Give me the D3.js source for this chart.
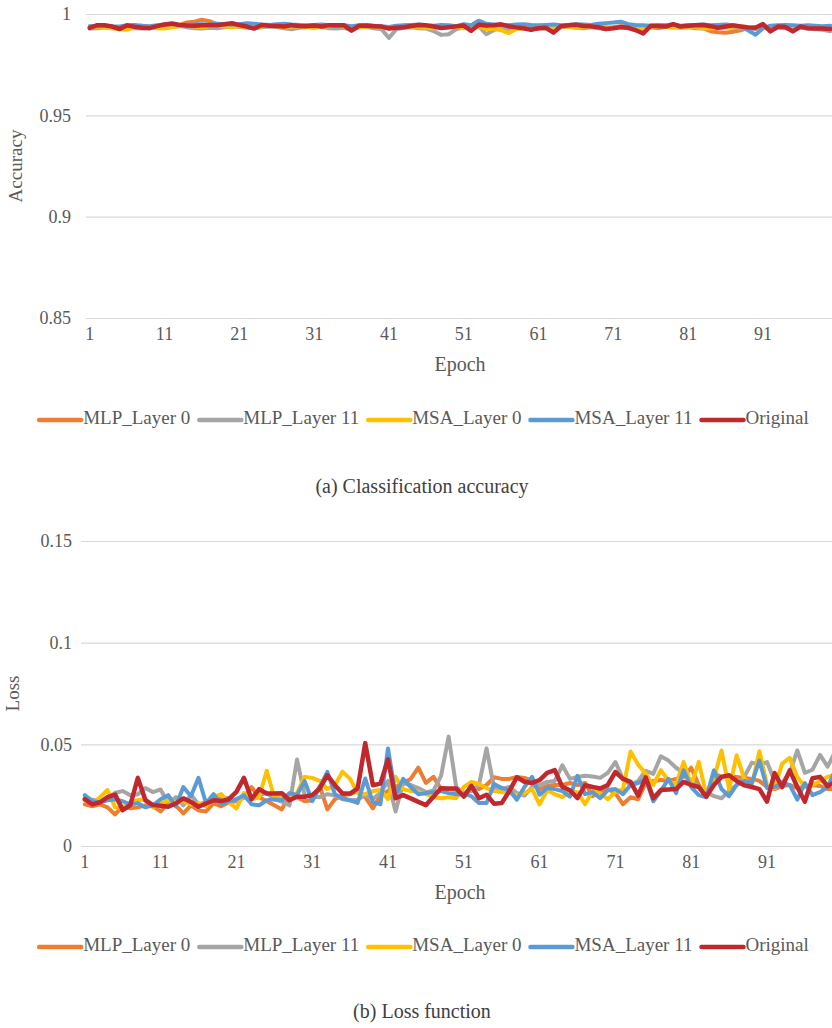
<!DOCTYPE html>
<html>
<head>
<meta charset="utf-8">
<script src="https://cdn.jsdelivr.net/npm/d3@7"></script>
<style>
  body { margin: 0; background: #fff; }
  svg text { font-family: "Liberation Serif", "Times New Roman", Tinos, "DejaVu Serif", "Noto Serif", serif; }
</style>
</head>
<body>
<div id="chart-area"></div>
<script>
// epochs 1..100
const epochs = d3.range(1, 101);
const seriesNames = ["MLP_Layer 0", "MLP_Layer 11", "MSA_Layer 0", "MSA_Layer 11", "Original"];
const xTickLabels = [1, 11, 21, 31, 41, 51, 61, 71, 81, 91];
const accTicks = [0.85, 0.9, 0.95, 1];
const lossTicks = [0, 0.05, 0.1, 0.15];

// (a) accuracy per epoch
const accMlp0 = [.9938,.9940,.9942,.9935,.9930,.9940,.9938,.9942,.9936,.9940,.9944,.9948,.9946,.9958,.9962,.9972,.9965,.9950,.9945,.9950,.9944,.9940,.9935,.9942,.9944,.9940,.9936,.9942,.9940,.9938,.9932,.9940,.9944,.9942,.9940,.9925,.9940,.9938,.9936,.9935,.9932,.9938,.9942,.9944,.9945,.9942,.9940,.9935,.9938,.9940,.9942,.9930,.9944,.9940,.9938,.9942,.9936,.9940,.9935,.9930,.9936,.9938,.9925,.9938,.9942,.9940,.9944,.9938,.9932,.9930,.9935,.9940,.9938,.9930,.9928,.9940,.9938,.9942,.9944,.9940,.9936,.9938,.9930,.9915,.9910,.9908,.9912,.9920,.9930,.9935,.9940,.9925,.9938,.9935,.9928,.9936,.9932,.9930,.9928,.9925];
const accMlp11 = [.9928,.9930,.9935,.9930,.9932,.9936,.9930,.9928,.9932,.9935,.9938,.9940,.9942,.9935,.9930,.9928,.9932,.9930,.9935,.9938,.9936,.9932,.9930,.9935,.9938,.9936,.9930,.9925,.9932,.9935,.9938,.9936,.9930,.9928,.9932,.9920,.9935,.9936,.9930,.9925,.9882,.9925,.9932,.9935,.9930,.9928,.9915,.9897,.9900,.9925,.9935,.9930,.9940,.9900,.9920,.9932,.9925,.9930,.9928,.9925,.9930,.9928,.9915,.9935,.9938,.9932,.9930,.9935,.9930,.9925,.9932,.9935,.9930,.9920,.9915,.9935,.9930,.9936,.9938,.9932,.9935,.9930,.9928,.9932,.9930,.9935,.9932,.9928,.9930,.9925,.9935,.9920,.9932,.9930,.9925,.9932,.9928,.9925,.9922,.9915];
const accMsa0 = [.9935,.9938,.9932,.9930,.9925,.9922,.9935,.9938,.9935,.9930,.9928,.9935,.9940,.9942,.9938,.9935,.9940,.9942,.9938,.9935,.9940,.9936,.9932,.9938,.9942,.9940,.9935,.9938,.9940,.9936,.9932,.9938,.9940,.9942,.9938,.9930,.9935,.9938,.9940,.9936,.9930,.9932,.9938,.9940,.9935,.9932,.9930,.9935,.9938,.9936,.9930,.9935,.9938,.9925,.9928,.9920,.9906,.9925,.9932,.9935,.9938,.9940,.9930,.9936,.9938,.9932,.9935,.9938,.9940,.9936,.9932,.9935,.9938,.9930,.9928,.9935,.9938,.9936,.9932,.9935,.9938,.9936,.9930,.9928,.9932,.9935,.9938,.9940,.9936,.9932,.9935,.9930,.9934,.9938,.9936,.9932,.9935,.9930,.9932,.9930];
const accMsa11 = [.9940,.9942,.9945,.9940,.9938,.9944,.9946,.9942,.9940,.9944,.9948,.9950,.9946,.9944,.9948,.9950,.9946,.9952,.9950,.9948,.9950,.9955,.9952,.9948,.9946,.9950,.9952,.9948,.9946,.9944,.9946,.9948,.9944,.9942,.9945,.9940,.9944,.9946,.9942,.9940,.9936,.9942,.9944,.9946,.9948,.9944,.9942,.9946,.9944,.9940,.9950,.9945,.9967,.9952,.9948,.9946,.9944,.9948,.9950,.9946,.9944,.9946,.9948,.9944,.9946,.9950,.9948,.9946,.9952,.9955,.9958,.9962,.9950,.9946,.9944,.9942,.9946,.9944,.9948,.9942,.9944,.9946,.9948,.9944,.9946,.9948,.9944,.9940,.9920,.9898,.9930,.9942,.9944,.9946,.9944,.9942,.9944,.9942,.9940,.9942];
const accOrig = [.9931,.9945,.9944,.9938,.9926,.9944,.9937,.9932,.9930,.9940,.9948,.9953,.9946,.9943,.9942,.9945,.9946,.9944,.9949,.9954,.9946,.9938,.9928,.9946,.9942,.9941,.9938,.9945,.9941,.9940,.9943,.9938,.9945,.9944,.9944,.9918,.9942,.9942,.9940,.9938,.9928,.9932,.9935,.9941,.9946,.9944,.9938,.9931,.9935,.9939,.9943,.9917,.9947,.9943,.9944,.9949,.9940,.9934,.9930,.9922,.9930,.9932,.9908,.9940,.9945,.9947,.9941,.9939,.9935,.9926,.9930,.9936,.9932,.9920,.9904,.9942,.9940,.9938,.9950,.9938,.9942,.9944,.9946,.9940,.9932,.9938,.9944,.9938,.9934,.9932,.9950,.9914,.9938,.9936,.9914,.9938,.9930,.9929,.9929,.9926];

// (b) loss per epoch
const lossMlp0 = [.0205,.0195,.0205,.0190,.0155,.0195,.0185,.0190,.0200,.0195,.0170,.0210,.0200,.0160,.0200,.0175,.0170,.0210,.0195,.0215,.0220,.0240,.0290,.0240,.0220,.0200,.0180,.0250,.0240,.0220,.0225,.0295,.0180,.0230,.0250,.0255,.0270,.0240,.0185,.0250,.0270,.0290,.0310,.0330,.0385,.0310,.0340,.0280,.0280,.0275,.0245,.0290,.0280,.0300,.0338,.0330,.0330,.0340,.0335,.0320,.0280,.0295,.0300,.0300,.0310,.0300,.0310,.0245,.0270,.0280,.0260,.0205,.0240,.0230,.0310,.0320,.0325,.0320,.0330,.0340,.0385,.0300,.0240,.0356,.0340,.0345,.0340,.0335,.0330,.0320,.0290,.0280,.0295,.0300,.0285,.0290,.0300,.0295,.0280,.0280];
const lossMlp11 = [.0235,.0228,.0220,.0230,.0262,.0270,.0250,.0255,.0285,.0265,.0278,.0210,.0240,.0200,.0252,.0205,.0215,.0220,.0238,.0235,.0220,.0240,.0230,.0248,.0262,.0230,.0218,.0200,.0425,.0250,.0245,.0240,.0255,.0248,.0230,.0225,.0228,.0250,.0232,.0260,.0320,.0170,.0310,.0300,.0285,.0265,.0272,.0345,.0538,.0290,.0262,.0270,.0300,.0480,.0285,.0280,.0290,.0260,.0248,.0290,.0300,.0315,.0320,.0397,.0330,.0340,.0345,.0342,.0335,.0360,.0413,.0330,.0300,.0320,.0370,.0355,.0441,.0420,.0385,.0360,.0320,.0290,.0265,.0245,.0235,.0270,.0300,.0340,.0410,.0400,.0413,.0320,.0310,.0360,.0470,.0360,.0375,.0448,.0390,.0465];
const lossMsa0 = [.0225,.0210,.0240,.0275,.0190,.0185,.0215,.0225,.0230,.0190,.0210,.0225,.0215,.0220,.0205,.0210,.0195,.0240,.0255,.0215,.0185,.0260,.0230,.0240,.0370,.0240,.0235,.0250,.0260,.0340,.0335,.0320,.0280,.0300,.0365,.0330,.0260,.0255,.0270,.0275,.0230,.0340,.0280,.0270,.0265,.0255,.0240,.0235,.0240,.0235,.0290,.0315,.0305,.0285,.0270,.0265,.0260,.0250,.0260,.0280,.0205,.0275,.0255,.0240,.0270,.0265,.0205,.0270,.0260,.0230,.0265,.0280,.0465,.0400,.0356,.0300,.0373,.0320,.0300,.0413,.0300,.0413,.0250,.0330,.0470,.0280,.0446,.0330,.0300,.0466,.0300,.0285,.0405,.0434,.0340,.0290,.0300,.0320,.0340,.0350];
const lossMsa11 = [.0250,.0220,.0215,.0225,.0230,.0220,.0205,.0210,.0190,.0200,.0230,.0250,.0195,.0290,.0245,.0335,.0210,.0255,.0205,.0220,.0230,.0250,.0205,.0200,.0225,.0230,.0225,.0260,.0250,.0320,.0220,.0290,.0365,.0255,.0235,.0225,.0212,.0332,.0215,.0205,.0480,.0250,.0330,.0290,.0255,.0260,.0265,.0270,.0260,.0255,.0255,.0245,.0212,.0212,.0305,.0285,.0275,.0228,.0290,.0340,.0252,.0285,.0280,.0270,.0243,.0345,.0255,.0265,.0235,.0275,.0280,.0255,.0300,.0310,.0330,.0220,.0270,.0330,.0260,.0372,.0290,.0250,.0240,.0372,.0280,.0245,.0300,.0320,.0310,.0420,.0285,.0290,.0310,.0300,.0228,.0310,.0250,.0265,.0290,.0372];
const lossOrig = [.0230,.0205,.0215,.0240,.0253,.0176,.0201,.0335,.0225,.0201,.0198,.0193,.0209,.0234,.0217,.0193,.0209,.0225,.0221,.0230,.0266,.0335,.0230,.0280,.0258,.0258,.0260,.0225,.0242,.0242,.0250,.0283,.0348,.0299,.0258,.0258,.0283,.0506,.0299,.0307,.0426,.0235,.0250,.0234,.0217,.0201,.0242,.0284,.0283,.0283,.0243,.0296,.0235,.0252,.0208,.0211,.0270,.0338,.0316,.0310,.0324,.0360,.0373,.0291,.0274,.0235,.0299,.0290,.0283,.0300,.0364,.0330,.0315,.0248,.0338,.0235,.0275,.0278,.0280,.0315,.0300,.0290,.0243,.0300,.0340,.0348,.0320,.0299,.0290,.0280,.0218,.0359,.0290,.0372,.0290,.0218,.0333,.0340,.0294,.0315];

const colors = ["#ED7D31", "#A5A5A5", "#FFC000", "#5B9BD5", "#C0282E"];
const widths = [4, 4, 4, 4, 4.5];

const svg = d3.select("#chart-area")
    .append("svg")
    .attr("width", 832)
    .attr("height", 1028);

function drawPanel(opts) {
    const x = d3.scaleBand().domain(epochs).range([opts.left, opts.right]);
    const y = d3.scaleLinear().domain([opts.ticks[0], opts.ticks[opts.ticks.length - 1]]).range([opts.bottom, opts.top]);
    const xc = d => x(d) + x.bandwidth() / 2;

    // gridlines + y labels
    const yAxis = svg.append("g")
        .attr("transform", `translate(${opts.left},0)`)
        .call(d3.axisLeft(y).tickValues(opts.ticks).tickSize(-(opts.right - opts.left)).tickPadding(opts.yPad).tickFormat(d => d3.format("")(+d.toFixed(2))));
    yAxis.attr("font-family", null);
    yAxis.select(".domain").remove();
    yAxis.selectAll("line").attr("stroke", "#d9d9d9").attr("stroke-width", 1.2);
    yAxis.selectAll("text").attr("fill", "#595959").attr("font-size", "18px");

    // x labels
    const xAxis = svg.append("g")
        .attr("transform", `translate(0,${opts.bottom})`)
        .call(d3.axisBottom(x).tickValues(xTickLabels).tickSize(0).tickPadding(9));
    xAxis.attr("font-family", null);
    xAxis.select(".domain").remove();
    xAxis.selectAll("text").attr("fill", "#595959").attr("font-size", "18px");

    const line = d3.line().x((d, i) => xc(epochs[i])).y(d => y(d));
    opts.series.forEach((s, k) => {
        svg.append("path")
            .datum(s)
            .attr("fill", "none")
            .attr("stroke", colors[k])
            .attr("stroke-width", widths[k])
            .attr("stroke-linejoin", "round")
            .attr("stroke-linecap", "round")
            .attr("d", line);
    });

    svg.append("text")
        .attr("x", 460)
        .attr("y", opts.bottom + 48)
        .attr("text-anchor", "middle")
        .attr("dominant-baseline", "middle")
        .attr("font-size", "20px")
        .attr("fill", "#595959")
        .text("Epoch");

    svg.append("text")
        .attr("transform", `translate(${opts.yTitleX},${(opts.top + opts.bottom) / 2}) rotate(-90)`)
        .attr("text-anchor", "middle")
        .attr("dominant-baseline", "middle")
        .attr("font-size", "19px")
        .attr("fill", "#595959")
        .text(opts.yTitle);

    // legend
    const legend = svg.append("g");
    const items = legend.selectAll("g").data(seriesNames).enter().append("g");
    items.append("line")
        .attr("x1", 0).attr("x2", 42).attr("y1", 0).attr("y2", 0)
        .attr("stroke", (d, i) => colors[i])
        .attr("stroke-width", 4.5)
        .attr("stroke-linecap", "round");
    items.append("text")
        .attr("x", 44)
        .attr("dominant-baseline", "middle")
        .attr("font-size", "19px")
        .attr("fill", "#595959")
        .text(d => d);
    let cx = 0;
    items.each(function () {
        const w = 44 + this.querySelector("text").getComputedTextLength();
        d3.select(this).attr("transform", `translate(${cx},0)`);
        cx += w + 9;
    });
    const total = cx - 9;
    legend.attr("transform", `translate(${424 - total / 2},${opts.legendY})`);

    svg.append("text")
        .attr("x", 422)
        .attr("y", opts.captionY)
        .attr("text-anchor", "middle")
        .attr("dominant-baseline", "middle")
        .attr("font-size", "20px")
        .attr("fill", "#404040")
        .text(opts.caption);
}

drawPanel({
    left: 86, right: 834, top: 14, bottom: 318,
    ticks: accTicks, yPad: 15,
    series: [accMlp0, accMlp11, accMsa0, accMsa11, accOrig],
    yTitle: "Accuracy", yTitleX: 18,
    legendY: 420, caption: "(a) Classification accuracy", captionY: 488
});

drawPanel({
    left: 81, right: 839, top: 541, bottom: 846,
    ticks: lossTicks, yPad: 9,
    series: [lossMlp0, lossMlp11, lossMsa0, lossMsa11, lossOrig],
    yTitle: "Loss", yTitleX: 15,
    legendY: 947, caption: "(b) Loss function", captionY: 1013
});
</script>
</body>
</html>
